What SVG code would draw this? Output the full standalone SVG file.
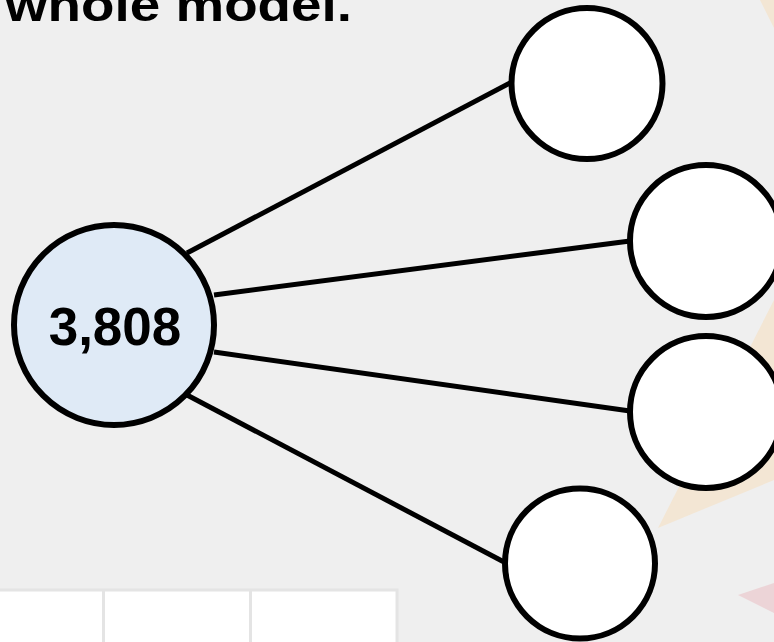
<svg xmlns="http://www.w3.org/2000/svg" width="774" height="642" viewBox="0 0 774 642">
  <style>
    .bg { fill: #efefef; }
    .link { stroke: #000; stroke-width: 5; fill: none; stroke-linecap: butt; }
    .node { stroke: #000; stroke-width: 6; }
    .whole { fill: #dfeaf6; }
    .part { fill: #ffffff; }
    .label { font-family: "Liberation Sans", Arial, sans-serif; font-weight: bold; fill: #000; }
    .cell { fill: #ffffff; stroke: #e4e4e4; stroke-width: 3; }
  </style>

  <!-- page background with faint decorative shards -->
  <rect class="bg" x="0" y="0" width="774" height="642"/>
  <polygon points="658,528 774,300 774,480" fill="#f3e6d4"/>
  <polygon points="760,0 774,0 774,28" fill="#f3e6d4"/>
  <polygon points="738,595 774,583 774,613" fill="#ecd4d7"/>

  <!-- heading (continues above the visible area) -->
  <text class="label" x="5" y="21" font-size="46" textLength="347" lengthAdjust="spacingAndGlyphs">whole model.</text>

  <!-- table row along the bottom edge -->
  <g id="table">
    <rect class="cell" x="-3" y="590" width="400" height="60"/>
    <line x1="103.5" y1="590" x2="103.5" y2="642" stroke="#e4e4e4" stroke-width="3"/>
    <line x1="250.5" y1="590" x2="250.5" y2="642" stroke="#e4e4e4" stroke-width="3"/>
  </g>

  <!-- connectors from the whole to each part -->
  <g id="connectors">
    <line class="link" x1="187" y1="253" x2="510" y2="83"/>
    <line class="link" x1="214" y1="295" x2="630" y2="241"/>
    <line class="link" x1="214" y1="352" x2="630" y2="411"/>
    <line class="link" x1="187" y1="395" x2="504" y2="562"/>
  </g>

  <g id="whole">
    <circle class="node whole" cx="114" cy="325" r="100"/>
    <text class="label" x="115" y="345" font-size="53" text-anchor="middle">3,808</text>
  </g>
  <g id="part1">
    <circle class="node part" cx="587" cy="83.5" r="75.5"/>
  </g>
  <g id="part2">
    <circle class="node part" cx="706" cy="241" r="76"/>
  </g>
  <g id="part3">
    <circle class="node part" cx="706" cy="412" r="76"/>
  </g>
  <g id="part4">
    <circle class="node part" cx="580" cy="563.5" r="75"/>
  </g>
</svg>
